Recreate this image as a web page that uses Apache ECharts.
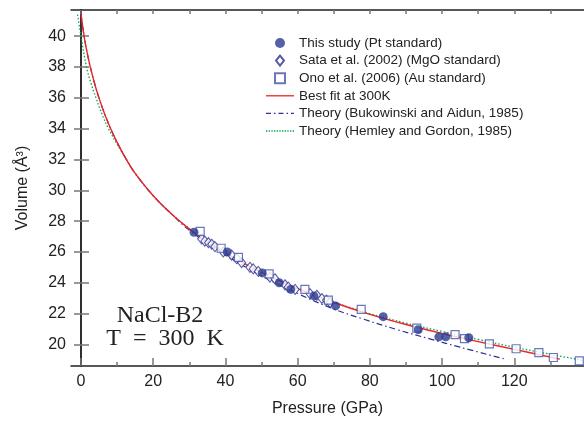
<!DOCTYPE html>
<html>
<head>
<meta charset="utf-8">
<script src="https://cdn.jsdelivr.net/npm/echarts@6/dist/echarts.min.js"></script>
<style>
html, body { margin: 0; padding: 0; background: #fff; }
#chart { width: 584px; height: 422px; }
</style>
</head>
<body>
<div id="chart"></div>
<script>
// This study (Pt standard)
const studyP = [31.3, 40.5, 50.2, 54.9, 58.1, 64.5, 70.5, 83.7, 93.4, 99.1, 101.0, 107.4];
const studyV = [27.28, 26.0, 24.64, 24.0, 23.57, 23.15, 22.5, 21.8, 20.96, 20.49, 20.49, 20.43];

// Sata et al. (2002)
const sataP = [33.4, 34.3, 35.3, 36.2, 37.1, 39.4, 41.7, 43.1, 44.5, 46.8, 47.7, 49.1, 52.3, 53.7, 56.5, 57.4, 59.3, 63.4, 65.3, 66.7, 68.0, 69.0];
const sataV = [26.85, 26.7, 26.6, 26.5, 26.35, 26.0, 25.8, 25.57, 25.3, 25.0, 24.9, 24.74, 24.36, 24.26, 23.87, 23.72, 23.57, 23.3, 23.19, 22.98, 22.87, 22.72];

// Ono et al. (2006)
const onoP = [33.0, 38.8, 43.6, 52.1, 62.0, 68.5, 77.6, 93.0, 103.6, 106.2, 113.1, 120.5, 126.8, 130.8, 138.0];
const onoV = [27.34, 26.24, 25.65, 24.58, 23.57, 22.87, 22.28, 21.06, 20.64, 20.38, 20.04, 19.72, 19.47, 19.15, 18.93];

// Best fit at 300K
const fitP = [0, 1, 2, 3, 4, 5, 6, 7, 8, 10, 12.5, 15, 20, 25, 30, 35, 40, 45, 50, 60, 70, 80, 90, 100, 110, 120, 132.6];
const fitV = [41.45, 39.8, 38.6, 37.6, 36.74, 35.98, 35.3, 34.68, 34.11, 33.11, 32.03, 31.1, 29.65, 28.48, 27.5, 26.65, 25.92, 25.27, 24.67, 23.62, 22.72, 21.95, 21.29, 20.71, 20.18, 19.68, 19.05];

// Theory (Bukowinski and Aidun, 1985)
const bukP = [0, 1, 2, 3, 4, 5, 6, 7, 8, 10, 12.5, 15, 20, 25, 30, 40, 50, 60, 70, 77.7, 87.4, 96.6, 105, 117.4];
const bukV = [41.45, 39.8, 38.6, 37.6, 36.74, 35.98, 35.3, 34.68, 34.11, 33.11, 32.03, 31.1, 29.65, 28.48, 27.4, 25.8, 24.45, 23.3, 22.3, 21.68, 20.97, 20.36, 19.82, 19.05];

// Theory (Hemley and Gordon, 1985)
const hemP = [-0.97, 0, 1.52, 2.7, 4.15, 5.8, 7.6, 10, 12.5, 15, 20, 25, 30, 35, 40, 45, 50, 60, 70, 80, 90, 100, 110, 120, 130, 139.3];
const hemV = [41.4, 40.0, 38.0, 37.0, 36.0, 34.95, 34.0, 33.0, 32.02, 31.1, 29.65, 28.48, 27.5, 26.65, 25.92, 25.28, 24.68, 23.65, 22.75, 22.0, 21.38, 20.84, 20.32, 19.82, 19.36, 18.95];

const xTicks = [0, 20, 40, 60, 80, 100, 120];
const xMinorTicks = [10, 30, 50, 70, 90, 110, 130];
const xTopTicks = [0, 10, 20, 30, 40, 50, 60, 70, 80, 90, 100, 110, 120, 130];
const yTicks = [20, 22, 24, 26, 28, 30, 32, 34, 36, 38, 40];

const names = ['This study (Pt standard)', 'Sata et al. (2002) (MgO standard)', 'Ono et al. (2006) (Au standard)',
  'Best fit at 300K', 'Theory (Bukowinski and Aidun, 1985)', 'Theory (Hemley and Gordon, 1985)'];

const xMin = -2.77, xMax = 139.3, yMin = 18.6, yMax = 41.7;
const zip = (a, b) => a.map((v, i) => [v, b[i]]);
const font = 'Liberation Sans';
const ink = '#222';

// legend icons (paths keep their aspect inside the 28x10 icon box)
const solidIcon = 'path://M0,0H28V1.3H0Z';
const dashDotIcon = 'path://M0,0H5V1.2H0Z M8,0H9.5V1.2H8Z M12.5,0H17.5V1.2H12.5Z M20.5,0H22V1.2H20.5Z M25,0H28V1.2H25Z';
let dots = '';
for (let x = 0; x < 28; x += 2.6) dots += 'M' + x + ',0H' + (x + 1.3) + 'V1.3H' + x + 'Z ';
const dotIcon = 'path://' + dots.trim();

const chart = echarts.init(document.getElementById('chart'));
chart.setOption({
  animation: false,
  grid: { left: 71, right: 0, top: 10, bottom: 50 },
  legend: {
    orient: 'vertical', left: 261, top: 31,
    itemWidth: 28, itemHeight: 10, itemGap: 3.6,
    symbolKeepAspect: true,
    textStyle: { fontSize: 13.5, fontFamily: font, color: ink, lineHeight: 14 },
    data: [
      { name: names[0], icon: 'circle' },
      { name: names[1], icon: 'path://M4,0L8,5L4,10L0,5Z' },
      { name: names[2], icon: 'path://M0,0H10V10H0Z' },
      { name: names[3], icon: solidIcon },
      { name: names[4], icon: dashDotIcon },
      { name: names[5], icon: dotIcon }
    ]
  },
  xAxis: [
    {
      type: 'value', min: xMin, max: xMax, position: 'bottom',
      axisLine: { lineStyle: { color: ink, width: 1.5 } },
      axisTick: { inside: true, length: 8, customValues: xTicks, lineStyle: { color: '#777', width: 1.5 } },
      axisLabel: { customValues: xTicks, margin: 8, fontSize: 16, fontFamily: font, color: ink },
      splitLine: { show: false },
      name: 'Pressure (GPa)', nameLocation: 'middle', nameGap: 35,
      nameTextStyle: { fontSize: 16, fontFamily: font, color: ink }
    },
    {
      type: 'value', min: xMin, max: xMax, position: 'bottom',
      axisLine: { show: false },
      axisTick: { inside: true, length: 4, customValues: xMinorTicks, lineStyle: { color: '#777', width: 1.5 } },
      axisLabel: { show: false }, splitLine: { show: false }
    },
    {
      type: 'value', min: xMin, max: xMax, position: 'top',
      axisLine: { lineStyle: { color: ink, width: 1.5 } },
      axisTick: { inside: true, length: 4, customValues: xTopTicks, lineStyle: { color: '#777', width: 1.5 } },
      axisLabel: { show: false }, splitLine: { show: false }
    }
  ],
  yAxis: [
    {
      type: 'value', min: yMin, max: yMax, position: 'left',
      axisLine: { show: true, lineStyle: { color: ink, width: 1.5 } },
      axisTick: { show: true, inside: true, length: 8, customValues: yTicks, lineStyle: { color: '#777', width: 1.5 } },
      axisLabel: { customValues: yTicks, margin: 5, fontSize: 16, fontFamily: font, color: ink },
      splitLine: { show: false },
      name: 'Volume (Å³)', nameLocation: 'middle', nameGap: 40, nameRotate: 90,
      nameTextStyle: { fontSize: 16, fontFamily: font, color: ink }
    },
    {
      type: 'value', min: yMin, max: yMax, position: 'right',
      axisLine: { show: true, lineStyle: { color: ink, width: 1.5 } },
      axisTick: { show: true, inside: true, length: 7, customValues: yTicks, lineStyle: { color: '#777', width: 1.5 } },
      axisLabel: { show: false }, splitLine: { show: false }
    }
  ],
  graphic: [
    { type: 'text', x: 160, y: 316, style: { text: 'NaCl-B2', font: '24px "Liberation Serif"', fill: ink, align: 'center', verticalAlign: 'middle' } },
    { type: 'text', x: 165, y: 339, style: { text: 'T\u2002=\u2002300\u2002K', font: '24px "Liberation Serif"', fill: ink, align: 'center', verticalAlign: 'middle' } }
  ],
  series: [
    {
      name: names[4], type: 'line', data: zip(bukP, bukV), showSymbol: false,
      smooth: 0.4, z: 1,
      lineStyle: { color: '#2e3192', width: 1.2, type: [6, 3, 1.5, 3] }, itemStyle: { color: '#2e3192' }
    },
    {
      name: names[5], type: 'line', data: zip(hemP, hemV), showSymbol: false,
      smooth: 0.4, z: 1,
      lineStyle: { color: '#00a651', width: 1.3, type: [1.5, 2] }, itemStyle: { color: '#00a651' }
    },
    {
      name: names[3], type: 'line', data: zip(fitP, fitV), showSymbol: false,
      smooth: 0.4, z: 2,
      lineStyle: { color: '#ee2229', width: 1.4 }, itemStyle: { color: '#ee2229' }
    },
    {
      name: names[1], type: 'scatter', data: zip(sataP, sataV), symbol: 'diamond', symbolSize: [8, 10], z: 3,
      itemStyle: { color: '#fff', borderColor: '#2e3192', borderWidth: 1.1 }
    },
    {
      name: names[2], type: 'scatter', data: zip(onoP, onoV), symbol: 'rect', symbolSize: 8, z: 4,
      itemStyle: { color: '#fff', borderColor: '#4455aa', borderWidth: 1.2 }
    },
    {
      name: names[0], type: 'scatter', data: zip(studyP, studyV), symbol: 'circle', symbolSize: 9, z: 5,
      itemStyle: { color: '#2b3990' }
    }
  ]
});
</script>
</body>
</html>
